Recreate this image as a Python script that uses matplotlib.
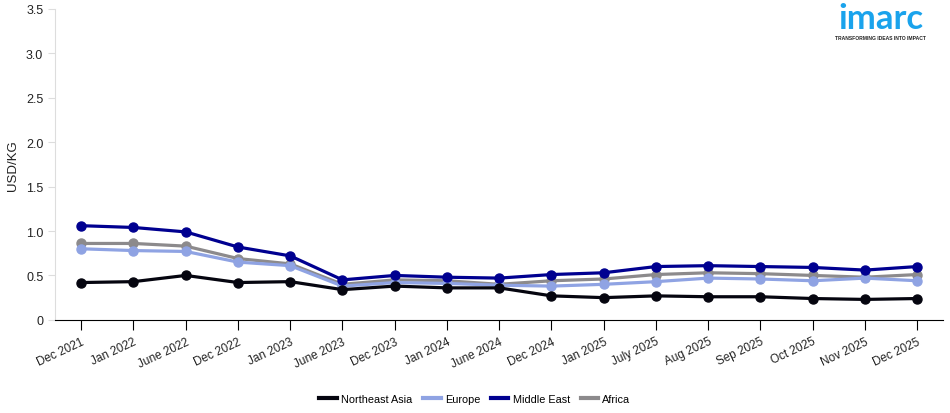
import matplotlib
matplotlib.use("Agg")
import matplotlib.pyplot as plt

plt.rcParams['font.family'] = ['Liberation Sans', 'DejaVu Sans']

# Data
periods = ['Dec 2021', 'Jan 2022', 'June 2022', 'Dec 2022', 'Jan 2023', 'June 2023',
           'Dec 2023', 'Jan 2024', 'June 2024', 'Dec 2024', 'Jan 2025', 'July 2025',
           'Aug 2025', 'Sep 2025', 'Oct 2025', 'Nov 2025', 'Dec 2025']

northeast_asia = [0.42, 0.43, 0.50, 0.42, 0.43, 0.34, 0.38, 0.36, 0.36, 0.27, 0.25,
                  0.27, 0.26, 0.26, 0.24, 0.23, 0.24]
europe = [0.80, 0.78, 0.77, 0.65, 0.61, 0.38, 0.42, 0.41, 0.39, 0.38, 0.40,
          0.43, 0.47, 0.46, 0.44, 0.47, 0.44]
middle_east = [1.06, 1.04, 0.99, 0.82, 0.72, 0.45, 0.50, 0.48, 0.47, 0.51, 0.53,
               0.60, 0.61, 0.60, 0.59, 0.56, 0.60]
africa = [0.86, 0.86, 0.83, 0.69, 0.63, 0.40, 0.45, 0.44, 0.40, 0.44, 0.46,
          0.51, 0.53, 0.52, 0.50, 0.48, 0.51]

series = [
    ('Northeast Asia', northeast_asia, '#05050f', 5),
    ('Europe', europe, '#8fa3e3', 3),
    ('Middle East', middle_east, '#000090', 4),
    ('Africa', africa, '#8c8a8c', 2),
]

fig = plt.figure(figsize=(9.5, 4.14), dpi=100)
ax = fig.add_axes([0.058, 0.225, 0.935, 0.751])

x = list(range(len(periods)))
for name, vals, col, z in series:
    ax.plot(x, vals, color=col, linewidth=2.3, marker='o', markersize=6.5,
            label=name, zorder=z)

ax.set_xlim(-0.5, 16.5)
ax.set_ylim(0, 3.5)
ax.set_yticks([0, 0.5, 1.0, 1.5, 2.0, 2.5, 3.0, 3.5])
ax.set_yticklabels(['0', '0.5', '1.0', '1.5', '2.0', '2.5', '3.0', '3.5'])
ax.set_xticks(x)
ax.set_xticklabels(periods, rotation=25, ha='right', rotation_mode='anchor')

ax.spines['top'].set_visible(False)
ax.spines['right'].set_visible(False)
ax.spines['left'].set_color('#dddddd')
ax.spines['bottom'].set_color('#000000')
ax.tick_params(axis='y', colors='#dddddd', labelcolor='#222222', labelsize=9, length=5)
ax.tick_params(axis='x', color='#000000', labelcolor='#222222', labelsize=8.5,
               length=7, pad=4)

ax.set_ylabel('USD/KG', fontsize=9.5, color='#222222', labelpad=5)

leg_handles = [plt.Line2D([0], [0], color=c, linewidth=3) for _, _, c, _ in series]
fig.legend(leg_handles, [s[0] for s in series], loc='center', ncol=4,
           bbox_to_anchor=(0.5, 0.035), frameon=False, fontsize=7.8,
           handlelength=1.6, handletextpad=0.4, columnspacing=1.0)

# logo
fig.text(0.927, 0.955, 'imarc', color='#1aa3ec', fontsize=25, fontweight='bold',
         ha='center', va='center', family='Lato')
fig.text(0.927, 0.907, 'TRANSFORMING IDEAS INTO IMPACT', color='#222222',
         fontsize=3.6, fontweight='bold', ha='center', va='center')

fig.savefig('out.png', dpi=100)
